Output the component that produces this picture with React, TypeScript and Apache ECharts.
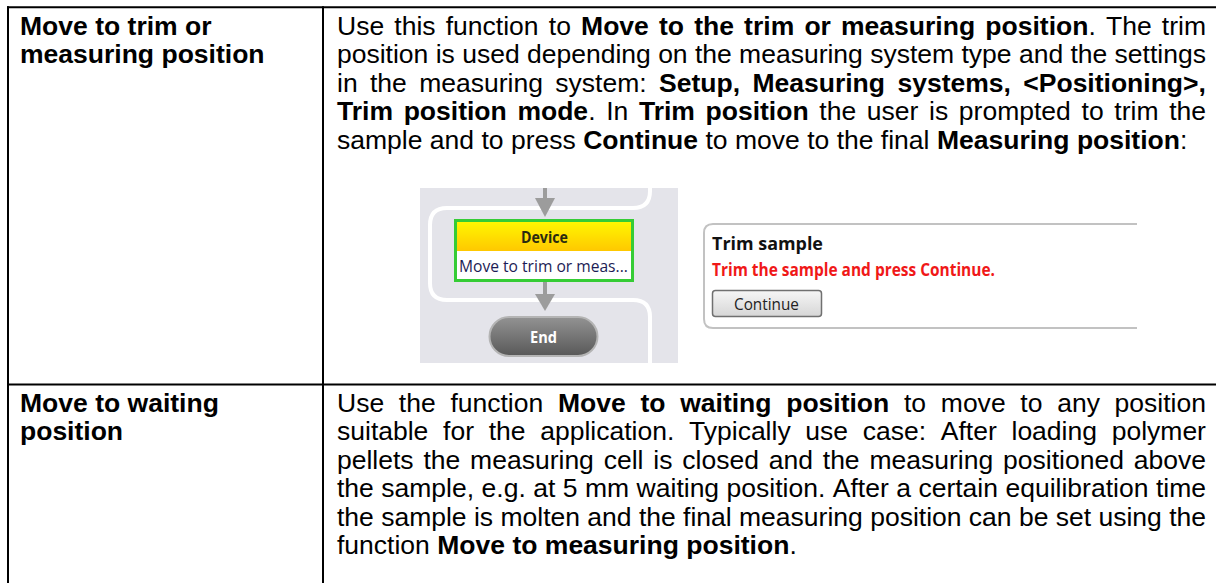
import React, { useEffect, useRef } from 'react';
import * as echarts from 'echarts';

// ---------- content ----------
const rowLabels1 = ['Move to trim or', 'measuring position'];
const rowText1 = [
  'Use this function to **Move to the trim or measuring position**. The trim',
  'position is used depending on the measuring system type and the settings',
  'in the measuring system: **Setup, Measuring systems, <Positioning>,**',
  '**Trim position mode**. In **Trim position** the user is prompted to trim the',
  'sample and to press **Continue** to move to the final **Measuring position**:',
];
const rowLabels2 = ['Move to waiting', 'position'];
const rowText2 = [
  'Use the function **Move to waiting position** to move to any position',
  'suitable for the application. Typically use case: After loading polymer',
  'pellets the measuring cell is closed and the measuring positioned above',
  'the sample, e.g. at 5 mm waiting position. After a certain equilibration time',
  'the sample is molten and the final measuring position can be set using the',
  'function **Move to measuring position**.',
];
const flowTitle = 'Device';
const flowStep = 'Move to trim or meas...';
const flowEnd = 'End';
const dialogTitle = 'Trim sample';
const dialogMessage = 'Trim the sample and press Continue.';
const dialogButton = 'Continue';

// ---------- layout ----------
const W = 1216;
const H = 583;
const FF = '"Liberation Sans", Arial, sans-serif';
const UIFF = '"Open Sans", "Noto Sans", sans-serif';
const FS = 25.5;
const SX = 1.04;
const LINE = 28.5;
const TOP_Y = 7.3;
const LEFT_X = 8;
const DIV_X = 323;
const ROW2_Y = 384.5;
const COL1_X = 20;
const COL2_X = 337;
const COL2_R = 1206;
const ROW1_CENTER = 26;
const ROW2_CENTER = 403;

let registered = false;
function registerShapes() {
  if (registered) return;
  registered = true;
  const lane =
    'M650 188 L650 191 Q650 208 633 208 L447 208 Q430 208 430 225 L430 283 Q430 300 447 300 L633 300 Q650 300 650 317 L650 363';
  const dlg = 'M1137 224 L713 224 Q704 224 704 233 L704 319 Q704 328 713 328 L1137 328';
  echarts.graphic.registerShape('laneShape', echarts.graphic.extendPath(lane, {}));
  echarts.graphic.registerShape('dialogShape', echarts.graphic.extendPath(dlg, {}));
}

type Seg = { text: string; bold: boolean };

function makeMeasurer() {
  const ctx = document.createElement('canvas').getContext('2d') as CanvasRenderingContext2D;
  return (text: string, font: string) => {
    ctx.font = font;
    return ctx.measureText(text).width;
  };
}

function bodyFont(bold: boolean) {
  return `${bold ? 'bold ' : ''}${FS}px ${FF}`;
}

function layoutParagraph(
  lines: string[],
  firstCenterY: number,
  left: number,
  right: number,
  justifyAll: boolean,
  allBold: boolean,
  measure: (t: string, f: string) => number,
  out: any[]
) {
  lines.forEach((markup, li) => {
    const segs: Seg[] = markup
      .split('**')
      .map((t, i) => ({ text: t, bold: allBold || i % 2 === 1 }))
      .filter((s) => s.text.length > 0);
    const words: Seg[][] = [];
    let cur: Seg[] = [];
    segs.forEach((seg) => {
      const parts = seg.text.split(' ');
      parts.forEach((p, i) => {
        if (i > 0) {
          if (cur.length) words.push(cur);
          cur = [];
        }
        if (p) cur.push({ text: p, bold: seg.bold });
      });
    });
    if (cur.length) words.push(cur);
    const widths = words.map((w) => w.map((s) => measure(s.text, bodyFont(s.bold)) * SX));
    const total = widths.reduce((a, w) => a + w.reduce((b, c) => b + c, 0), 0);
    const isLast = li === lines.length - 1;
    const space = measure(' ', bodyFont(allBold)) * SX;
    const gap = justifyAll && !isLast && words.length > 1 ? (right - left - total) / (words.length - 1) : space;
    const y = firstCenterY + li * LINE;
    let x = left;
    words.forEach((w, wi) => {
      w.forEach((s, si) => {
        out.push({
          type: 'text',
          x,
          y,
          scaleX: SX,
          silent: true,
          style: {
            text: s.text,
            fontFamily: FF,
            fontSize: FS,
            fontWeight: s.bold ? 'bold' : 'normal',
            fill: '#000',
            textAlign: 'left',
            verticalAlign: 'middle',
            textVerticalAlign: 'middle',
          },
        });
        x += widths[wi][si];
      });
      x += gap;
    });
  });
}

function fittedText(
  text: string,
  x: number,
  y: number,
  width: number,
  size: number,
  bold: boolean,
  fill: string,
  measure: (t: string, f: string) => number
) {
  const natural = measure(text, `${bold ? 'bold ' : ''}${size}px ${UIFF}`);
  const sx = width / natural;
  return {
    type: 'text',
    x,
    y,
    scaleX: sx,
    silent: true,
    style: {
      text,
      fontFamily: UIFF,
      fontSize: size,
      fontWeight: bold ? 'bold' : 'normal',
      fill,
      textAlign: 'left',
      verticalAlign: 'middle',
      textVerticalAlign: 'middle',
    },
  };
}

export default function App() {
  const ref = useRef<HTMLDivElement>(null);
  useEffect(() => {
    if (!ref.current) return;
    registerShapes();
    const measure = makeMeasurer();
    const chart = echarts.init(ref.current, undefined, { renderer: 'svg', width: W, height: H });
    const els: any[] = [];

    els.push({ type: 'rect', shape: { x: 0, y: 0, width: W, height: H }, style: { fill: '#fff' }, silent: true });

    // ---- embedded screenshot: flowchart ----
    els.push({ type: 'rect', shape: { x: 420, y: 188, width: 258, height: 175 }, style: { fill: '#e4e4ea' }, silent: true });
    els.push({ type: 'laneShape', style: { fill: null, stroke: '#ffffff', lineWidth: 4 }, silent: true });
    const arrowCol = '#9c9c9c';
    els.push({ type: 'line', shape: { x1: 545, y1: 188, x2: 545, y2: 201 }, style: { stroke: arrowCol, lineWidth: 4 }, silent: true });
    els.push({ type: 'polygon', shape: { points: [[535, 198], [555, 198], [545, 217]] }, style: { fill: arrowCol }, silent: true });
    els.push({ type: 'line', shape: { x1: 545, y1: 281, x2: 545, y2: 296 }, style: { stroke: arrowCol, lineWidth: 4 }, silent: true });
    els.push({ type: 'polygon', shape: { points: [[535, 294], [555, 294], [545, 311]] }, style: { fill: arrowCol }, silent: true });

    els.push({ type: 'rect', shape: { x: 455.5, y: 220.5, width: 177, height: 60 }, style: { fill: '#fff', stroke: '#35cc35', lineWidth: 3 }, silent: true });
    els.push({
      type: 'rect',
      shape: { x: 457, y: 222, width: 174, height: 29 },
      style: {
        fill: new echarts.graphic.LinearGradient(0, 0, 0, 1, [
          { offset: 0, color: '#fff600' },
          { offset: 1, color: '#ffc800' },
        ]),
      },
      silent: true,
    });
    els.push(fittedText(flowTitle, 521, 237, 47, 16, true, '#2a2a10', measure));
    els.push(fittedText(flowStep, 459, 265.5, 169, 16.5, false, '#1c1c55', measure));

    els.push({
      type: 'rect',
      shape: { x: 489.5, y: 317, width: 108, height: 39, r: 19.5 },
      style: {
        fill: new echarts.graphic.LinearGradient(0, 0, 0, 1, [
          { offset: 0, color: '#939393' },
          { offset: 1, color: '#585858' },
        ]),
        stroke: '#b4b4b4',
        lineWidth: 2,
      },
      silent: true,
    });
    els.push(fittedText(flowEnd, 530, 337, 27, 16, true, '#ffffff', measure));

    // ---- embedded screenshot: dialog ----
    els.push({ type: 'dialogShape', style: { fill: '#ffffff', stroke: '#c2c2c2', lineWidth: 2 }, silent: true });
    els.push(fittedText(dialogTitle, 712, 243, 111, 18, true, '#111111', measure));
    els.push(fittedText(dialogMessage, 712, 270, 283, 17, true, '#f01818', measure));
    els.push({
      type: 'rect',
      shape: { x: 712.5, y: 290.5, width: 109, height: 26, r: 3 },
      style: {
        fill: new echarts.graphic.LinearGradient(0, 0, 0, 1, [
          { offset: 0, color: '#f6f6f6' },
          { offset: 1, color: '#d6d6d6' },
        ]),
        stroke: '#707070',
        lineWidth: 1.5,
      },
      silent: true,
    });
    els.push(fittedText(dialogButton, 734, 304, 65, 16, false, '#222222', measure));

    // ---- table text ----
    layoutParagraph(rowLabels1, ROW1_CENTER, COL1_X, DIV_X - 10, false, true, measure, els);
    layoutParagraph(rowText1, ROW1_CENTER, COL2_X, COL2_R, true, false, measure, els);
    layoutParagraph(rowLabels2, ROW2_CENTER, COL1_X, DIV_X - 10, false, true, measure, els);
    layoutParagraph(rowText2, ROW2_CENTER, COL2_X, COL2_R, true, false, measure, els);

    // ---- table rules ----
    const rule = { stroke: '#000', lineWidth: 2 };
    els.push({ type: 'line', shape: { x1: LEFT_X - 1, y1: TOP_Y, x2: W, y2: TOP_Y }, style: rule, silent: true });
    els.push({ type: 'line', shape: { x1: LEFT_X, y1: TOP_Y - 1, x2: LEFT_X, y2: H }, style: rule, silent: true });
    els.push({ type: 'line', shape: { x1: DIV_X, y1: TOP_Y - 1, x2: DIV_X, y2: H }, style: rule, silent: true });
    els.push({ type: 'line', shape: { x1: LEFT_X - 1, y1: ROW2_Y, x2: W, y2: ROW2_Y }, style: rule, silent: true });

    chart.setOption({ animation: false, graphic: { elements: els } });
    return () => chart.dispose();
  }, []);
  return (
    <div
      ref={ref}
      style={{ position: 'absolute', left: 0, top: 0, width: W, height: H, background: '#fff' }}
    />
  );
}
